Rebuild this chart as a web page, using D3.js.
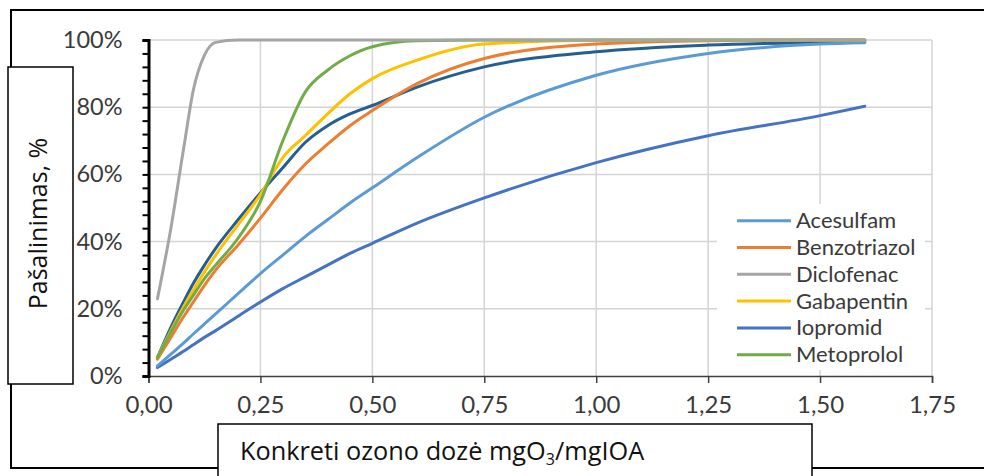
<!DOCTYPE html>
<html>
<head>
<meta charset="utf-8">
<script src="https://cdn.jsdelivr.net/npm/d3@7"></script>
<style>
  html, body { margin: 0; padding: 0; background: #fff; }
  svg { display: block; }
</style>
</head>
<body>
<svg id="chart" width="984" height="476"></svg>
<script>
// dose points (mgO3/mgIOA)
const doses = [0.02, 0.05, 0.08, 0.1, 0.125, 0.15, 0.2, 0.25, 0.3, 0.35, 0.4, 0.45, 0.5, 0.6, 0.75, 1.0, 1.25, 1.5, 1.6];

// removal, %
const acesulfam    = [3, 6.5, 10, 12.5, 15.5, 18.5, 24.5, 30.5, 36, 41.5, 46.5, 51.5, 56, 65, 77, 89.5, 96, 98.8, 99.2];
const benzotriazol = [5, 11.5, 18, 22, 27, 31.5, 39, 47, 55.5, 63, 69, 74.5, 79, 87, 94.5, 98.8, 99.8, 100, 100];
const diclofenac   = [23, 44, 69, 85, 95.5, 99.3, 100, 100, 100, 100, 100, 100, 100, 100, 100, 100, 100, 100, 100];
const gabapentin   = [5.5, 13.5, 21, 25.5, 31, 36, 45, 54, 65, 71.5, 78, 84, 88.5, 94, 98.8, 99.9, 100, 100, 100];
const iopromid     = [2.5, 5, 7.5, 9.3, 11.5, 13.5, 17.8, 22, 26, 29.5, 33, 36.5, 39.5, 45.5, 53, 63.5, 71.5, 77.5, 80.3];
const metoprolol   = [5.5, 13, 20, 24, 29, 33, 41, 52, 70, 84.5, 91, 95.3, 98, 99.8, 100, 100, 100, 100, 100];
const seventh      = [5.5, 14.5, 22.5, 27.5, 33, 38, 46.5, 54.5, 62, 69.5, 74.5, 78, 80.5, 86, 92, 96.5, 98.5, 99.3, 99.5];

const seriesNames  = ["Acesulfam", "Benzotriazol", "Diclofenac", "Gabapentin", "Iopromid", "Metoprolol"];
const seriesColors = ["#5b9bd5", "#ed7d31", "#a5a5a5", "#ffc000", "#4472c4", "#70ad47"];

const xTicks = [0, 0.25, 0.5, 0.75, 1.0, 1.25, 1.5, 1.75];
const yTicks = [0, 20, 40, 60, 80, 100];

const svg = d3.select("#chart");

const x = d3.scaleLinear().domain([0, 1.75]).range([148.5, 932]);
const y = d3.scaleLinear().domain([0, 100]).range([376, 40]);

// outer frame
svg.append("rect")
    .attr("x", 11).attr("y", 10)
    .attr("width", 990).attr("height", 458)
    .attr("fill", "#fff").attr("stroke", "#000").attr("stroke-width", 2);

// grid
const grid = svg.append("g").attr("stroke", "#d4d4d4").attr("stroke-width", 1.5);
grid.selectAll("line.h").data(yTicks.slice(1)).join("line")
    .attr("x1", x(0)).attr("x2", x(1.75))
    .attr("y1", d => y(d)).attr("y2", d => y(d));
grid.selectAll("line.v").data(xTicks.slice(1)).join("line")
    .attr("x1", d => x(d)).attr("x2", d => x(d))
    .attr("y1", y(0)).attr("y2", y(100));

// x axis
const xAxis = svg.append("g")
    .attr("transform", `translate(0,${y(0)})`)
    .call(d3.axisBottom(x).tickValues(xTicks).tickSize(7).tickPadding(13)
        .tickFormat(d => d3.format(".2f")(d).replace(".", ",")));
xAxis.select(".domain").attr("stroke", "#404040").attr("stroke-width", 1.5);
xAxis.selectAll(".tick line").attr("stroke", "#404040").attr("stroke-width", 1.5);
xAxis.selectAll("text")
    .attr("font-family", "Lato").attr("font-size", 24).attr("fill", "#3a3a3a");

// y axis
const yAxis = svg.append("g")
    .attr("transform", `translate(${x(0)},0)`)
    .call(d3.axisLeft(y).tickValues(d3.range(0, 101, 4)).tickSize(6).tickPadding(20)
        .tickFormat(d => d % 20 === 0 ? d + "%" : ""));
yAxis.select(".domain").attr("stroke", "#000").attr("stroke-width", 3);
yAxis.selectAll(".tick line").attr("stroke", "#000").attr("stroke-width", 2);
yAxis.selectAll("text")
    .attr("font-family", "Lato").attr("font-size", 23.5).attr("fill", "#3a3a3a");

// lines
const line = d3.line()
    .x((d, i) => x(doses[i]))
    .y(d => y(d))
    .curve(d3.curveMonotoneX);

const allSeries = [
    {values: seventh, color: "#255e91"},
    {values: iopromid, color: seriesColors[4]},
    {values: acesulfam, color: seriesColors[0]},
    {values: benzotriazol, color: seriesColors[1]},
    {values: gabapentin, color: seriesColors[3]},
    {values: metoprolol, color: seriesColors[5]},
    {values: diclofenac, color: seriesColors[2]}
];

svg.append("g").selectAll("path")
    .data(allSeries)
    .join("path")
    .attr("d", d => line(d.values))
    .attr("fill", "none")
    .attr("stroke", d => d.color)
    .attr("stroke-width", 3)
    .attr("stroke-linecap", "round");

// legend
const legend = svg.append("g");
legend.append("rect")
    .attr("x", 717).attr("y", 204).attr("width", 208).attr("height", 166)
    .attr("fill", "#fff");
const item = legend.selectAll("g").data(seriesNames).join("g")
    .attr("transform", (d, i) => `translate(0,${220.7 + i * 26.8})`);
item.append("line")
    .attr("x1", 737).attr("x2", 791)
    .attr("stroke", (d, i) => seriesColors[i]).attr("stroke-width", 3);
item.append("text")
    .attr("x", 796).attr("y", 7.5)
    .attr("font-family", "Lato").attr("font-size", 22).attr("fill", "#3a3a3a")
    .text(d => d);

// y title box
svg.append("rect")
    .attr("x", 8).attr("y", 67).attr("width", 65).attr("height", 317)
    .attr("fill", "#fff").attr("stroke", "#000").attr("stroke-width", 1.5);
svg.append("text")
    .attr("transform", "translate(47,223.5) rotate(-90)")
    .attr("text-anchor", "middle")
    .attr("font-family", "Open Sans").attr("font-size", 25).attr("fill", "#111")
    .text("Pašalinimas, %");

// x title box
svg.append("rect")
    .attr("x", 218).attr("y", 424).attr("width", 594).attr("height", 70)
    .attr("fill", "#fff").attr("stroke", "#000").attr("stroke-width", 1.5);
const xt = svg.append("text")
    .attr("x", 240).attr("y", 460)
    .attr("font-family", "Open Sans").attr("font-size", 25.3).attr("fill", "#111");
xt.append("tspan").text("Konkreti ozono dozė mgO");
xt.append("tspan").attr("font-size", 16).attr("dy", 5).text("3");
xt.append("tspan").attr("dy", -5).text("/mgIOA");
</script>
</body>
</html>
